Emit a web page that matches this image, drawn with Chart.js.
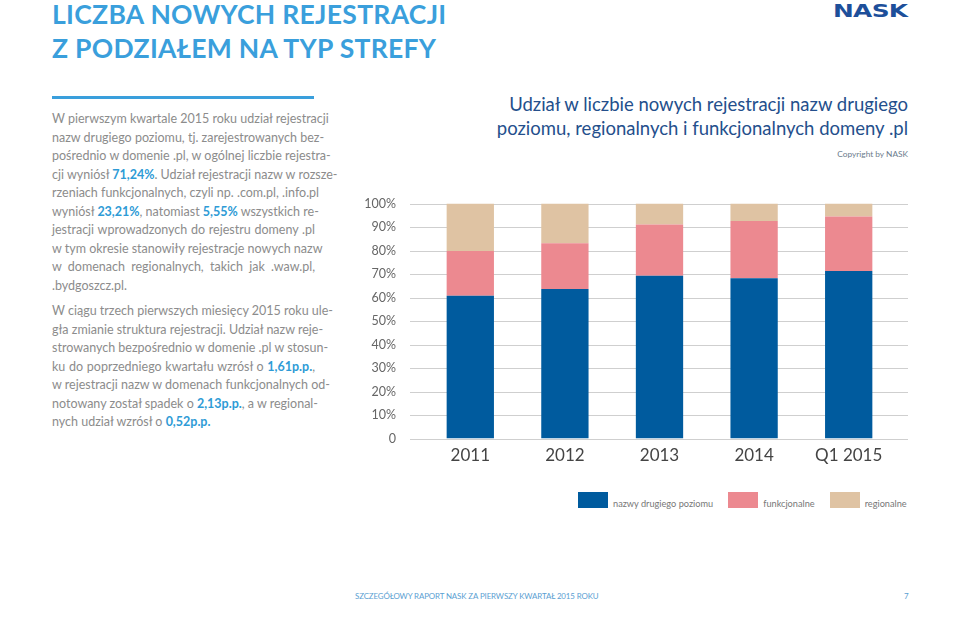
<!DOCTYPE html>
<html lang="pl">
<head>
<meta charset="utf-8">
<script src="https://cdn.jsdelivr.net/npm/chart.js@4"></script>
<style>
  body { margin: 0; width: 960px; height: 620px; background: #fff; position: relative; overflow: hidden; font-family: Lato, "Noto Sans", sans-serif; }
  #title { position: absolute; left: 52px; top: -3px; color: #3a9fdc; font-weight: 700; font-size: 26.5px; line-height: 34px; letter-spacing: 0.3px; }
  #logo { position: absolute; left: 833px; top: 0px; color: #1d4f9a; font-family: "DejaVu Sans", sans-serif; font-weight: 700; font-size: 18px; line-height: 21px; transform: scaleX(1.38); transform-origin: left top; letter-spacing: -0.5px; }
  #rule { position: absolute; left: 52px; top: 96px; width: 262px; height: 3px; background: #3a9fdc; }
  .txt { position: absolute; left: 52px; width: 263px; color: #8c8c8c; font-size: 12.5px; line-height: 18.55px; }
  .txt div { text-align: justify; text-align-last: justify; white-space: nowrap; }
  .txt div.last { text-align-last: left; }
  .txt b { color: #2e9bd6; font-weight: 700; }
  #p1 { top: 110px; }
  #p2 { top: 302px; }
  #ctitle { position: absolute; right: 52px; top: 92px; text-align: right; color: #244f8c; font-size: 18.5px; line-height: 24px; }
  #copy { position: absolute; right: 52px; top: 149px; color: #6b7b8c; font-size: 8.3px; }
  #wrap { position: absolute; left: 340px; top: 169px; width: 600px; height: 304px; }
  #legend { position: absolute; left: 578px; top: 492px; font-size: 9.2px; color: #777; display: flex; }
  #legend span.box { display: inline-block; width: 30px; height: 16px; vertical-align: top; }
  #legend .item { margin-right: 15px; white-space: nowrap; }
  #legend .item:last-child { margin-right: 0; }
  #legend .lab { margin-left: 5px; position: relative; top: 6px; }
  #footer { position: absolute; left: 355px; top: 591px; color: #5aa0d2; font-size: 7.9px; letter-spacing: -0.1px; }
  #page { position: absolute; left: 904px; top: 591px; color: #5aa0d2; font-size: 8px; }
</style>
</head>
<body>
<div id="title">LICZBA NOWYCH REJESTRACJI<br>Z PODZIAŁEM NA TYP STREFY</div>
<div id="logo">NASK</div>
<div id="rule"></div>

<div class="txt" id="p1">
  <div>W pierwszym kwartale 2015 roku udział rejestracji</div>
  <div>nazw drugiego poziomu, tj. zarejestrowanych bez-</div>
  <div>pośrednio w domenie .pl, w ogólnej liczbie rejestra-</div>
  <div>cji wyniósł <b>71,24%</b>. Udział rejestracji nazw w rozsze-</div>
  <div>rzeniach funkcjonalnych, czyli np. .com.pl, .info.pl</div>
  <div>wyniósł <b>23,21%</b>, natomiast <b>5,55%</b> wszystkich re-</div>
  <div>jestracji wprowadzonych do rejestru domeny .pl</div>
  <div>w tym okresie stanowiły rejestracje nowych nazw</div>
  <div>w domenach regionalnych, takich jak .waw.pl,</div>
  <div class="last">.bydgoszcz.pl.</div>
</div>
<div class="txt" id="p2">
  <div>W ciągu trzech pierwszych miesięcy 2015 roku ule-</div>
  <div>gła zmianie struktura rejestracji. Udział nazw reje-</div>
  <div>strowanych bezpośrednio w domenie .pl w stosun-</div>
  <div>ku do poprzedniego kwartału wzrósł o <b>1,61p.p.</b>,</div>
  <div>w rejestracji nazw w domenach funkcjonalnych od-</div>
  <div>notowany został spadek o <b>2,13p.p.</b>, a w regional-</div>
  <div class="last">nych udział wzrósł o <b>0,52p.p.</b></div>
</div>

<div id="ctitle">Udział w liczbie nowych rejestracji nazw drugiego<br>poziomu, regionalnych i funkcjonalnych domeny .pl</div>
<div id="copy">Copyright by NASK</div>

<div id="wrap"><canvas id="myChart"></canvas></div>
<div id="legend"></div>

<div id="footer">SZCZEGÓŁOWY RAPORT NASK ZA PIERWSZY KWARTAŁ 2015 ROKU</div>
<div id="page">7</div>

<script>
'use strict';
//--------------------DATA

// periods on the x axis
const labels = ['2011', '2012', '2013', '2014', 'Q1 2015'];

// share of new registrations (%)
const secondLevel = [60.7, 63.6, 69.3, 68.2, 71.24];
const functional = [19.1, 19.5, 21.8, 24.4, 23.21];
const regional = [20.2, 16.9, 8.9, 7.4, 5.55];

const seriesNames = ['nazwy drugiego poziomu', 'funkcjonalne', 'regionalne'];
const seriesColors = ['#005b9e', '#ec8990', '#dfc3a3'];

// y tick labels
const yTicks = [0, 10, 20, 30, 40, 50, 60, 70, 80, 90, 100];

//--------------------PLUGINS

// grid lines reach a bit past the bars on both sides
const wideGrid = {
  id: 'wideGrid',
  beforeDatasetsDraw(chart) {
    const ctx = chart.ctx;
    const y = chart.scales.y;
    ctx.save();
    ctx.strokeStyle = '#cfcfcf';
    ctx.lineWidth = 1;
    yTicks.forEach(function (t) {
      const py = Math.round(y.getPixelForValue(t)) + 0.5;
      ctx.beginPath();
      ctx.moveTo(70, py);
      ctx.lineTo(568, py);
      ctx.stroke();
    });
    ctx.restore();
  }
};

//--------------------CHART

const data = {
  labels: labels,
  datasets: [
    { label: seriesNames[0], data: secondLevel, backgroundColor: seriesColors[0] },
    { label: seriesNames[1], data: functional, backgroundColor: seriesColors[1] },
    { label: seriesNames[2], data: regional, backgroundColor: seriesColors[2] },
  ],
};

const config = {
  type: 'bar',
  data: data,
  options: {
    responsive: false,
    animation: false,
    maintainAspectRatio: false,
    layout: { padding: { top: 12, right: 44, left: 0, bottom: 0 } },
    datasets: { bar: { barPercentage: 0.5, categoryPercentage: 1 } },
    plugins: { legend: { display: false }, tooltip: { enabled: false } },
    scales: {
      x: {
        stacked: true,
        grid: { display: false, drawTicks: false },
        border: { display: false },
        ticks: { color: '#444', font: { family: 'Lato', size: 17 }, padding: 7 },
        afterFit: function (scale) { scale.height = 30; },
      },
      y: {
        stacked: true,
        min: 0,
        max: 100,
        grid: { display: false, drawTicks: false },
        border: { display: false },
        ticks: {
          stepSize: 10,
          padding: 27,
          color: '#666',
          font: { family: 'Lato', size: 12.5 },
          callback: function (v) { return v === 0 ? '0' : v + '%'; },
        },
        afterFit: function (scale) { scale.width = 83; },
      },
    },
  },
  plugins: [wideGrid],
};

const canvas = document.getElementById('myChart');
canvas.width = 600;
canvas.height = 304;
const myChart = new Chart(canvas, config);

// legend below the chart
let legend = document.getElementById('legend');
for (let i = 0; i < seriesNames.length; i++) {
  let item = document.createElement('div');
  item.className = 'item';
  item.innerHTML = `<span class="box" style="background:${seriesColors[i]}"></span><span class="lab">${seriesNames[i]}</span>`;
  legend.appendChild(item);
}
</script>
</body>
</html>
